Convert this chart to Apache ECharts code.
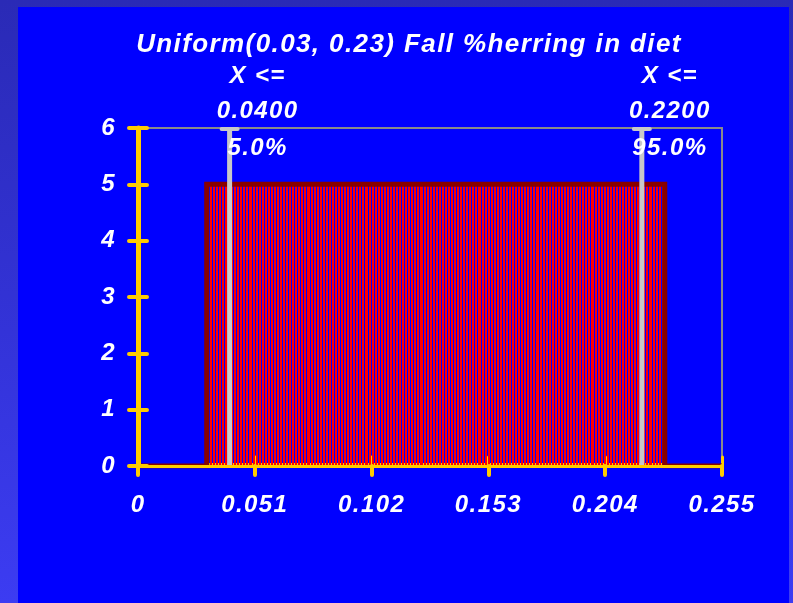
<!DOCTYPE html>
<html><head><meta charset="utf-8">
<script src="https://cdn.jsdelivr.net/npm/echarts@6/dist/echarts.min.js"></script>
<style>
html,body{margin:0;padding:0;width:793px;height:603px;overflow:hidden;background:linear-gradient(to bottom,#2a2ab6 0%,#3333d8 55%,#3c3cf2 100%);}
#panel{position:absolute;left:18px;top:7px;width:771px;height:596px;background:#0000ff;}
#chart{position:absolute;left:0;top:0;width:793px;height:603px;}
</style></head><body><div id="panel"></div><div id="chart"></div>
<script>
const titleText = 'Uniform(0.03, 0.23) Fall %herring in diet';
const rangeMin = 0.03;
const rangeMax = 0.23;
const densityValues = [
5,5,5,5,5,5,5,5,5,5,5,5,5,5,5,5,5,5,5,5,5,5,5,5,5,5,5,5,5,5,
5,5,5,5,5,5,5,5,5,5,5,5,5,5,5,5,5,5,5,5,5,5,5,5,5,5,5,5,5,5,
5,5,5,5,5,5,5,5,5,5,5,5,5,5,5,5,5,5,5,5,5,5,5,5,5,5,5,5,5,5,
5,5,5,5,5,5,5,5,5,5,5,5,5,5,5,5,5,5,5,5,5,5,5,5,5,5,5,5,5,5,
5,5,5,5,5,5,5,5,5,5,5,5,5,5,5,5,5,5,5,5,5,5,5,5,5,5,5,5,5,5
];
const xTicks = [0, 0.051, 0.102, 0.153, 0.204, 0.255];
const yTicks = [0, 1, 2, 3, 4, 5, 6];
const percentileX = [0.04, 0.22];
const percentileValueLabels = ['0.0400', '0.2200'];
const percentileProbLabels = ['5.0%', '95.0%'];

// the reference text is set with a little letter spacing; canvas supports it natively
(function () {
  const proto = CanvasRenderingContext2D.prototype;
  const orig = proto.fillText;
  proto.fillText = function (text, x, y, maxW) {
    if ('letterSpacing' in this) this.letterSpacing = '1.4px';
    return maxW === undefined ? orig.call(this, text, x, y) : orig.call(this, text, x, y, maxW);
  };
})();

const FONT_FAMILY = '"Liberation Sans", Arial, Helvetica, sans-serif';
const YELLOW = '#ffcc00';
const binW = (rangeMax - rangeMin) / densityValues.length;
const barData = densityValues.map((v, i) => [rangeMin + i * binW, rangeMin + (i + 1) * binW, v]);
const outlineData = [
  [xTicks[0], 0], [rangeMin, 0], [rangeMin, densityValues[0]],
  [rangeMax, densityValues[densityValues.length - 1]], [rangeMax, 0], [xTicks[xTicks.length - 1], 0]
];
const pctData = percentileX.map((x, i) => [x, i]);

const xInterval = xTicks[1] - xTicks[0];
const yInterval = yTicks[1] - yTicks[0];

function renderBar(params, api) {
  const x0 = api.value(0), x1 = api.value(1), v = api.value(2);
  const p0 = api.coord([x0, v]), p1 = api.coord([x1, 0]);
  const l = Math.round(p0[0]), r = Math.round(p1[0]) - 1;
  return { type: 'rect', shape: { x: l, y: p0[1], width: r - l, height: p1[1] - p0[1] }, style: { fill: '#ff0000', stroke: null } };
}
function renderStrip(params, api) {
  const p0 = api.coord([rangeMin, 0]), p1 = api.coord([rangeMax, 0]);
  return { type: 'rect', shape: { x: p0[0], y: p0[1] - 3, width: p1[0] - p0[0], height: 3 }, style: { fill: YELLOW } };
}
function renderPct(params, api) {
  const x = api.value(0);
  const i = api.value(1);
  const top = api.coord([x, yTicks[yTicks.length - 1]]), bot = api.coord([x, 0]);
  const tx = top[0] + 28;
  const font = 'italic bold 24px ' + FONT_FAMILY;
  const txt = (t, dy) => ({ type: 'text', x: tx, y: top[1] + dy,
    style: { text: t, fill: '#ffffff', font: font, align: 'center', verticalAlign: 'middle', textAlign: 'center', textVerticalAlign: 'middle' } });
  return { type: 'group', children: [
    { type: 'rect', shape: { x: top[0] - 2.5, y: top[1], width: 5, height: bot[1] - top[1] }, style: { fill: '#c8c8c8' } },
    { type: 'rect', shape: { x: top[0] - 10, y: top[1] - 1, width: 20, height: 4, r: 2 }, style: { fill: '#c8c8c8' } },
    txt('X <=', -52), txt(percentileValueLabels[i], -17), txt(percentileProbLabels[i], 20)
  ]};
}

const chart = echarts.init(document.getElementById('chart'), null, { renderer: 'canvas' });
const labelStyle = { color: '#ffffff', fontSize: 24, fontWeight: 'bold', fontStyle: 'italic', fontFamily: FONT_FAMILY };
const baseX = { type: 'value', min: xTicks[0], max: xTicks[xTicks.length - 1], interval: xInterval, splitLine: { show: false } };
const baseY = { type: 'value', min: yTicks[0], max: yTicks[yTicks.length - 1], interval: yInterval, splitLine: { show: false } };
chart.setOption({
  backgroundColor: 'transparent',
  animation: false,
  title: { text: titleText, left: 404, top: 27, textAlign: 'center',
    textStyle: { color: '#ffffff', fontSize: 26, fontWeight: 'bold', fontStyle: 'italic', fontFamily: FONT_FAMILY } },
  grid: { left: 138, top: 128, right: 71, bottom: 137, show: true, borderColor: '#8a8a8a', borderWidth: 2, backgroundColor: 'transparent' },
  xAxis: [
    Object.assign({}, baseX, { position: 'bottom', offset: 2, z: 5,
      axisLine: { show: true, lineStyle: { color: YELLOW, width: 3 } },
      axisTick: { show: true, inside: false, length: 9, lineStyle: { color: YELLOW, width: 4, cap: 'round' } },
      axisLabel: Object.assign({ margin: 25, formatter: v => v === 0 ? '0' : v.toFixed(3) }, labelStyle) }),
    Object.assign({}, baseX, { position: 'bottom', offset: 0, z: 0,
      axisLine: { show: false },
      axisTick: { show: true, inside: true, length: 9, lineStyle: { color: YELLOW, width: 3, cap: 'round' } },
      axisLabel: { show: false } })
  ],
  yAxis: [
    Object.assign({}, baseY, { position: 'left', z: 5,
      axisLine: { show: true, lineStyle: { color: YELLOW, width: 5 } },
      axisTick: { show: true, inside: false, length: 9, lineStyle: { color: YELLOW, width: 4, cap: 'round' } },
      axisLabel: Object.assign({ margin: 22 }, labelStyle) }),
    Object.assign({}, baseY, { position: 'left', z: 5,
      axisLine: { show: false },
      axisTick: { show: true, inside: true, length: 9, lineStyle: { color: YELLOW, width: 4, cap: 'round' } },
      axisLabel: { show: false } })
  ],
  series: [
    { type: 'custom', name: 'strip', xAxisIndex: 0, yAxisIndex: 0, renderItem: renderStrip, data: [[rangeMin, rangeMax]], z: 1, silent: true },
    { type: 'custom', name: 'bins', xAxisIndex: 0, yAxisIndex: 0, renderItem: renderBar, data: barData, encode: { x: [0, 1], y: 2 }, z: 2, silent: true },
    { type: 'line', name: 'outline', xAxisIndex: 0, yAxisIndex: 0, data: outlineData, symbol: 'none', z: 3, silent: true,
      lineStyle: { color: '#880000', width: 5, join: 'miter' } },
    { type: 'custom', name: 'pct', xAxisIndex: 0, yAxisIndex: 0, renderItem: renderPct, data: pctData, encode: { x: 0 }, z: 4, silent: true }
  ]
});
</script></body></html>
